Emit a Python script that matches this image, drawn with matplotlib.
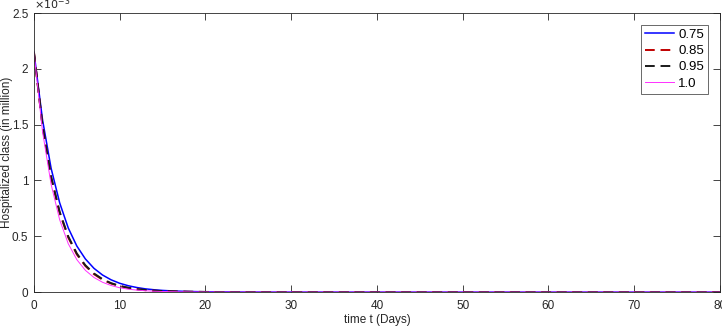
import matplotlib.pyplot as plt
from matplotlib.ticker import FuncFormatter

plt.rcParams['font.family'] = ['Liberation Sans', 'DejaVu Sans']

# hospitalized class, values in units of 1e-3 million
days = [0, 1, 2, 3, 4, 5, 6, 7, 8, 9, 10, 11, 12, 13, 14, 15, 16, 17, 18, 19, 20,
        25, 30, 40, 50, 60, 70, 80]
h_075 = [2.15, 1.545, 1.11, 0.80, 0.575, 0.413, 0.297, 0.213, 0.153, 0.110, 0.079,
         0.057, 0.041, 0.029, 0.021, 0.015, 0.011, 0.008, 0.0057, 0.0041, 0.003,
         0.0006, 0.0001, 0, 0, 0, 0, 0]
h_085 = [2.15, 1.485, 1.026, 0.709, 0.490, 0.338, 0.234, 0.161, 0.111, 0.077, 0.053,
         0.037, 0.025, 0.017, 0.012, 0.0083, 0.0057, 0.0040, 0.0027, 0.0019, 0.0013,
         0.0002, 0, 0, 0, 0, 0, 0]
h_095 = [2.15, 1.492, 1.036, 0.719, 0.499, 0.346, 0.240, 0.167, 0.116, 0.080, 0.056,
         0.039, 0.027, 0.019, 0.013, 0.009, 0.0062, 0.0043, 0.003, 0.0021, 0.0014,
         0.0003, 0, 0, 0, 0, 0, 0]
h_100 = [2.15, 1.44, 0.966, 0.648, 0.434, 0.291, 0.195, 0.131, 0.088, 0.059, 0.039,
         0.026, 0.018, 0.012, 0.008, 0.0053, 0.0036, 0.0024, 0.0016, 0.0011, 0.0007,
         0.0001, 0, 0, 0, 0, 0, 0]
labels = ['0.75', '0.85', '0.95', '1.0']

axis_col = '#262626'

fig = plt.figure(figsize=(7.22, 3.26), dpi=100)
ax = fig.add_axes([0.047, 0.104, 0.950, 0.856])

ax.plot(days, h_075, color='#0000ff', lw=1.1, label=labels[0])
ax.plot(days, h_085, color='#c00000', lw=1.4, ls=(0, (5, 3)), label=labels[1])
ax.plot(days, h_095, color='#1a1a1a', lw=1.4, ls=(0, (5, 3)), label=labels[2])
ax.plot(days, h_100, color='#ff30ff', lw=0.7, label=labels[3])

ax.set_xlim(0, 80)
ax.set_ylim(0, 2.5)
ax.set_xticks(range(0, 81, 10))
ax.set_yticks([0, 0.5, 1, 1.5, 2, 2.5])
ax.yaxis.set_major_formatter(FuncFormatter(lambda v, p: f'{v:g}'))

ax.tick_params(direction='in', top=True, right=True, length=5, width=0.6,
               labelsize=8.5, colors=axis_col)
ax.tick_params(axis='x', pad=6)
ax.tick_params(axis='y', pad=4)
for s in ax.spines.values():
    s.set_color(axis_col)
    s.set_linewidth(0.6)

ax.text(0.0, 1.005, r'$\times10^{-3}$', transform=ax.transAxes, fontsize=8,
        color=axis_col, ha='left', va='bottom')

ax.set_xlabel('time t (Days)', fontsize=8.5, color=axis_col)
ax.xaxis.set_label_coords(0.5, -0.08)
ax.set_ylabel('Hospitalized class (in million)', fontsize=8.5, color=axis_col)
ax.yaxis.set_label_coords(-0.031, 0.5)

leg = ax.legend(loc='upper right', fontsize=9.5, frameon=True, fancybox=False,
                borderaxespad=0.9, handlelength=2.2, handletextpad=0.3,
                labelspacing=0.3, borderpad=0.3)
leg.get_frame().set_edgecolor(axis_col)
leg.get_frame().set_linewidth(0.6)

fig.savefig('out.png', dpi=100)
